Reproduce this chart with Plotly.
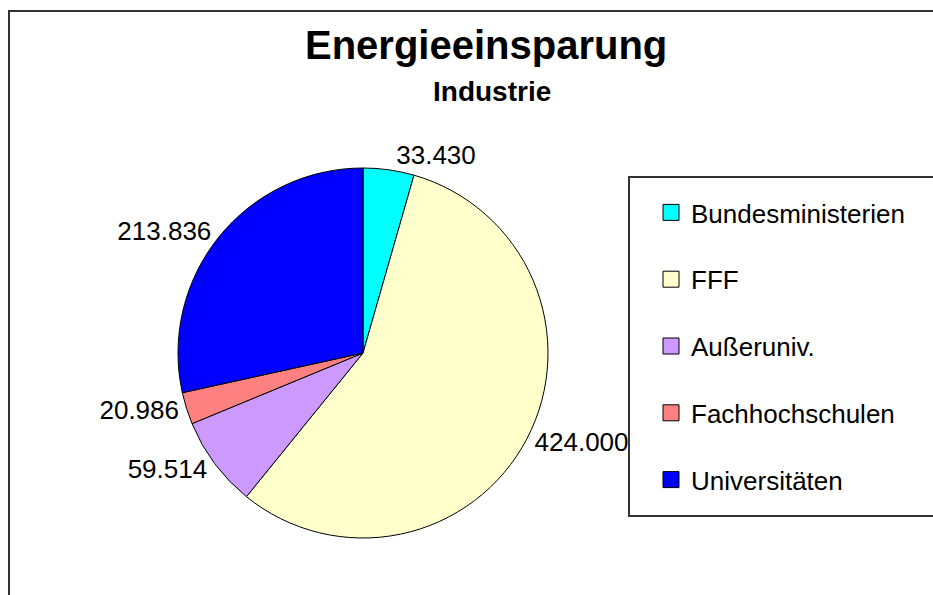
import plotly.graph_objects as go

# data
labels = ["Bundesministerien", "FFF", "Außeruniv.", "Fachhochschulen", "Universitäten"]
values = [33430, 424000, 59514, 20986, 213836]
colors = ["#00FFFF", "#FFFFCC", "#CC99FF", "#FF8080", "#0000FF"]

W, H = 933, 595
FONT = "Liberation Sans, Arial, sans-serif"


def px_x(x):
    return x / W


def px_y(y):
    return 1 - y / H


fig = go.Figure()

fig.add_trace(go.Pie(
    labels=labels,
    values=values,
    marker=dict(colors=colors, line=dict(color="black", width=1)),
    sort=False,
    direction="clockwise",
    rotation=0,
    textposition="outside",
    texttemplate="%{value:,}",
    outsidetextfont=dict(size=26, color="black", family=FONT),
    domain=dict(x=[px_x(178), px_x(548)], y=[px_y(538), px_y(168)]),
    showlegend=False,
))

# legend entries (one group each so the spacing can be set)
for lab, col in zip(labels, colors):
    fig.add_trace(go.Scatter(
        x=[None], y=[None], mode="markers", name=lab, legendgroup=lab,
        marker=dict(symbol="square", size=16, color=col, line=dict(color="black", width=1)),
    ))

fig.update_layout(
    width=W, height=H,
    margin=dict(l=0, r=0, t=0, b=0),
    paper_bgcolor="white",
    plot_bgcolor="white",
    separators=",.",
    font=dict(family=FONT, color="black", size=26),
    xaxis=dict(visible=False),
    yaxis=dict(visible=False),
    legend=dict(
        x=px_x(651), y=px_y(189), xanchor="left", yanchor="top",
        bgcolor="rgba(0,0,0,0)", borderwidth=0,
        font=dict(size=26, family=FONT, color="black"),
        tracegroupgap=30,
        traceorder="grouped",
    ),
    annotations=[
        dict(text="<b>Energieeinsparung</b>", x=px_x(486), y=px_y(45), xref="paper", yref="paper",
             xanchor="center", yanchor="middle",
             showarrow=False, font=dict(size=40, family=FONT, color="black")),
        dict(text="<b>Industrie</b>", x=px_x(492), y=px_y(91), xref="paper", yref="paper",
             xanchor="center", yanchor="middle",
             showarrow=False, font=dict(size=28, family=FONT, color="black")),
    ],
    shapes=[
        # outer chart frame
        dict(type="rect", xref="paper", yref="paper", x0=px_x(9), y0=-0.1, x1=1.1, y1=px_y(11),
             line=dict(color="#333333", width=2), layer="below"),
        # legend frame
        dict(type="rect", xref="paper", yref="paper", x0=px_x(629), y0=px_y(516), x1=1.1, y1=px_y(177),
             line=dict(color="#333333", width=2), layer="below"),
    ],
)

fig.write_html("out.html", config={"displayModeBar": False},
               post_script="document.body.style.margin='0';")
